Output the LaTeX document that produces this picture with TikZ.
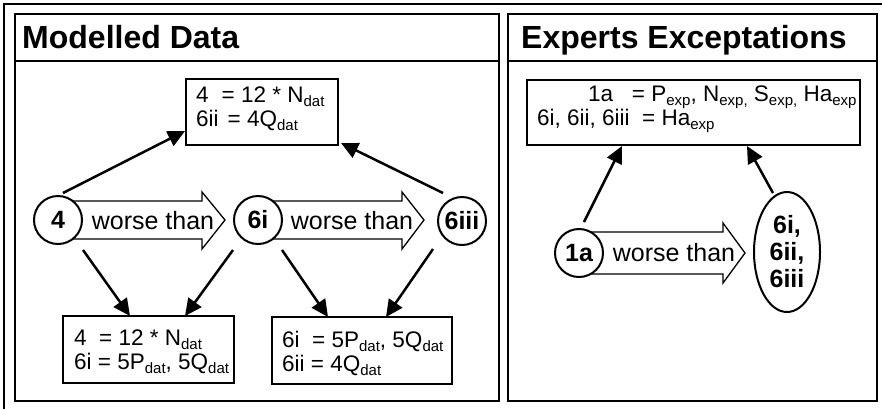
\documentclass[tikz,border=0pt]{standalone}
\usepackage{fontspec}
\setmainfont{Liberation Sans}
\usetikzlibrary{arrows.meta,shapes.geometric,calc}
\newcommand\subt[1]{\raisebox{-4pt}{\fontsize{15}{15}\selectfont #1}}
\begin{document}
\begin{tikzpicture}[x=1pt,y=-1pt,
  panel/.style={draw,line width=2pt},
  box/.style={draw,line width=1.3pt,fill=white,inner sep=0pt},
  txt/.style={inner sep=0pt,align=left,anchor=west,font=\fontsize{22.5}{24}\selectfont},
  circ/.style={circle,draw,line width=2pt,fill=white,minimum size=48pt,inner sep=0pt,font=\bfseries\fontsize{25}{27}\selectfont},
  ell/.style={ellipse,draw,line width=2pt,fill=white,minimum width=66pt,minimum height=120pt,inner sep=0pt,align=center,font=\bfseries\fontsize{25}{27}\selectfont},
  conn/.style={line width=2.5pt,-{Triangle[length=17pt,width=16pt]}},
  blk/.style={draw,line width=1.3pt,fill=white},
  ttl/.style={font=\bfseries\fontsize{32}{32}\selectfont,anchor=base west,inner sep=0pt},
  worse/.style={font=\fontsize{25}{25}\selectfont,inner sep=0pt}]
\useasboundingbox (0,0) rectangle (882,408);
\draw[line width=1.2pt] (4,412) -- (4,4) -- (886,4);
% panels
\draw[panel] (15,14) rectangle (499,401);
\draw[panel] (15,61) -- (499,61);
\draw[panel] (508,14) rectangle (877,401);
\draw[panel] (508,61) -- (877,61);
\node[ttl] (t1) at (22,48) {Modelled Data};
\node[ttl] (t2) at (521,48) {Experts Exceptations};
% block arrows
\draw[blk] (58,201) -- (202,201) -- (202,192) -- (225,220) -- (202,249) -- (202,239) -- (58,239) -- cycle;
\node[worse] (w1) at (153,221) {worse than};
\draw[blk] (258,201) -- (402,201) -- (402,192) -- (424,220) -- (402,249) -- (402,239) -- (258,239) -- cycle;
\node[worse] (w2) at (352,221) {worse than};
\draw[blk] (579,232) -- (723,232) -- (723,223) -- (745,253) -- (723,283) -- (723,274) -- (579,274) -- cycle;
\node[worse] (w3) at (674,253) {worse than};
% circles
\node[circ] (c4) at (58,220) {4};
\node[circ] (c6i) at (258,220) {6i};
\node[circ] (c6iii) at (462,221) {6iii};
\node[circ] (c1a) at (579,253) {1a};
\node[ell] (e6) at (787,252) {6i,\\6ii,\\6iii};
% boxes
\node[box,minimum width=152pt,minimum height=66pt] (tb) at (262,112) {};
\node[txt] (tbt) at (196,109) {4\hspace{13pt}= 12 * N\subt{dat}\\6ii\hspace{9pt}= 4Q\subt{dat}};
\node[box,minimum width=171pt,minimum height=67pt] (bl) at (148.5,349.5) {};
\node[txt] (blt) at (74,352) {4 \ = 12 * N\subt{dat}\\6i = 5P\subt{dat}, 5Q\subt{dat}};
\node[box,minimum width=180pt,minimum height=67pt] (br) at (362,350.5) {};
\node[txt] (brt) at (282,353) {6i \ = 5P\subt{dat}, 5Q\subt{dat}\\6ii = 4Q\subt{dat}};
\node[box,minimum width=333pt,minimum height=65pt] (rt) at (693.5,112.5) {};
\node[txt] (rtt) at (537,109) {\hspace*{51pt}1a \ \ = P\subt{exp}, N\subt{exp,} S\subt{exp,} Ha\subt{exp}\\6i, 6ii, 6iii \ = Ha\subt{exp}};
% connectors
\coordinate (a1s) at (63,193); \coordinate (a1e) at (185,131);
\coordinate (a2s) at (443,193); \coordinate (a2e) at (341,143);
\coordinate (a3s) at (83,250); \coordinate (a3e) at (130,316);
\coordinate (a4s) at (233,250); \coordinate (a4e) at (185,316);
\coordinate (a5s) at (282,250); \coordinate (a5e) at (328,317);
\coordinate (a6s) at (433,249); \coordinate (a6e) at (386,317);
\coordinate (a7s) at (584,222); \coordinate (a7e) at (622,146);
\coordinate (a8s) at (773,193); \coordinate (a8e) at (747,146);
\foreach \i in {1,...,8} \draw[conn] (a\i s) -- (a\i e);
\end{tikzpicture}
\end{document}
